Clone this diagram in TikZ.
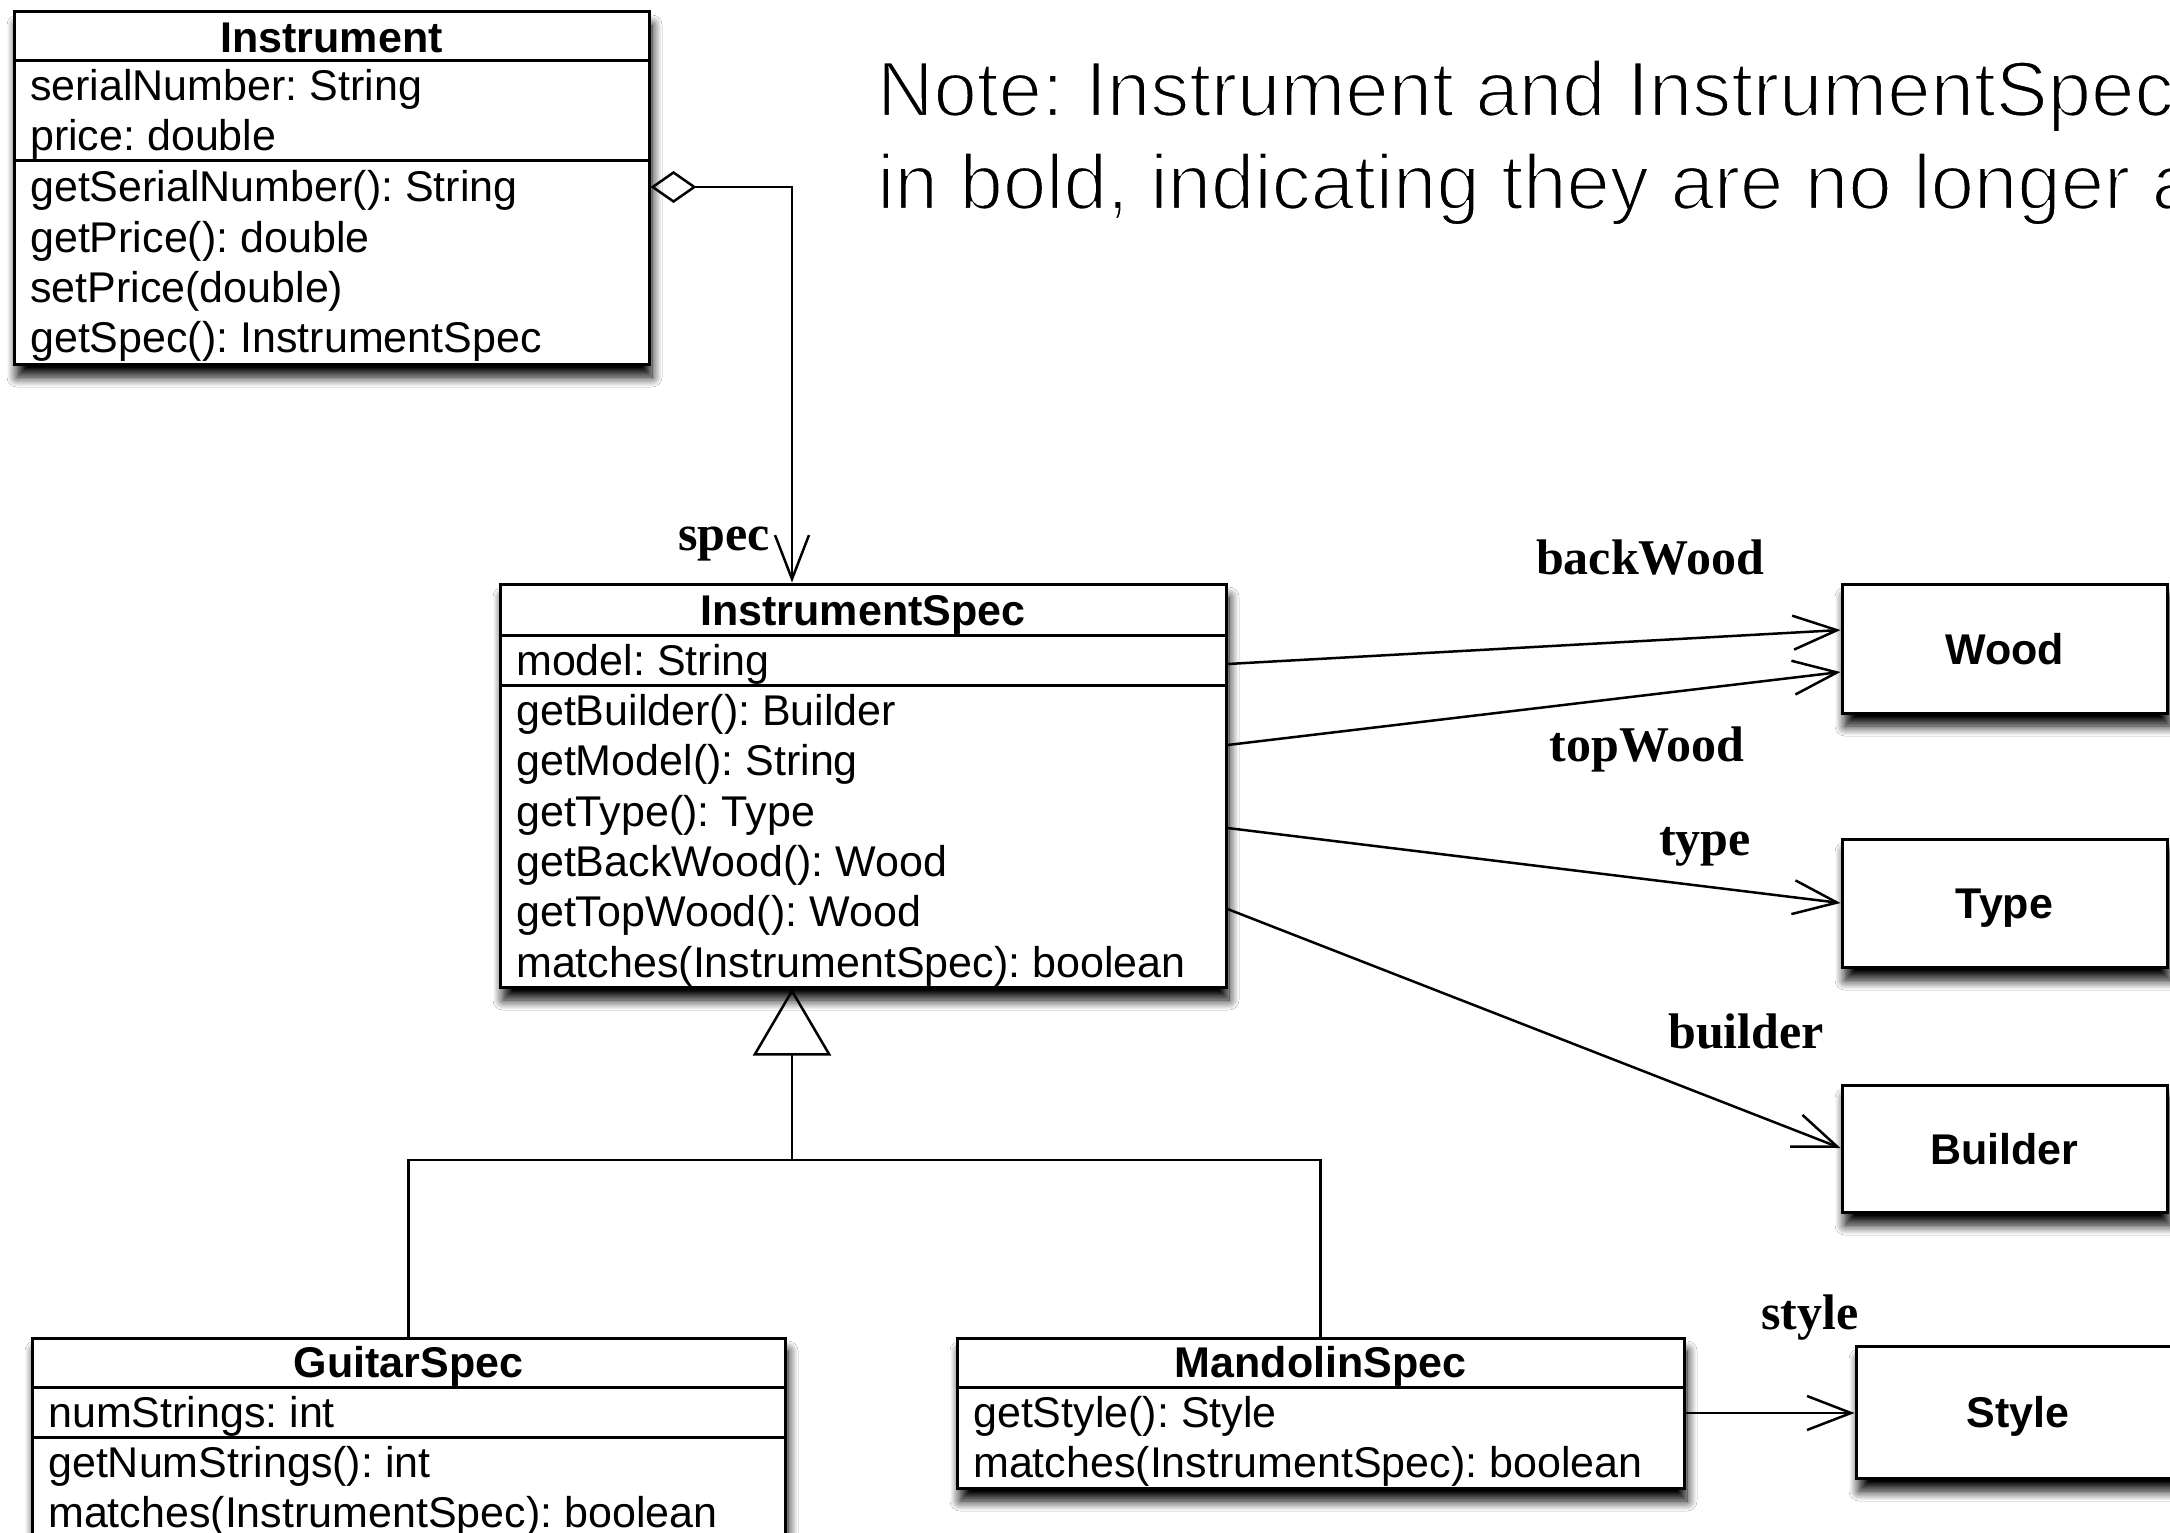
\documentclass[tikz,border=0pt]{standalone}
\usepackage{fontspec}
\setmainfont{Liberation Sans}
\newfontfamily\rolefont{Liberation Serif}
\usetikzlibrary{arrows.meta,shadows.blur}
\frenchspacing

% light-weight rendering of the note: glyph outlines are trimmed by a thin white stroke
\newcommand\lighttext[1]{\special{pdf:code q 2 Tr 1 1 1 RG 2.2 w}#1\special{pdf:code Q}}

\tikzset{
  classbox/.style={draw, rectangle, line width=3pt, fill=white, inner sep=0pt,
    blur shadow={shadow xshift=3pt, shadow yshift=-13pt, shadow blur radius=10pt, shadow opacity=100, shadow blur steps=12}},
  simplebox/.style={classbox, font=\fontsize{43}{50}\selectfont\bfseries, text height=31pt, text depth=0pt},
  divider/.style={line width=3pt},
  classname/.style={font=\fontsize{43}{50}\selectfont\bfseries, inner sep=0pt, text height=31pt, text depth=0pt},
  member/.style={font=\fontsize{43}{50}\selectfont, anchor=west, inner sep=0pt, text height=30pt, text depth=0pt},
  rolelabel/.style={font=\rolefont\fontsize{50}{60}\selectfont\bfseries, anchor=base, inner sep=0pt},
  notetext/.style={font=\fontsize{78}{97}\selectfont, anchor=base west, inner sep=0pt},
  link/.style={line width=2.5pt},
  assoc/.style={link, -{Straight Barb[length=44pt, width=34pt, line width=2.5pt]}},
  aggr/.style={link, {Diamond[open, length=46pt, width=32pt, line width=2.5pt]}-{Straight Barb[length=44pt, width=34pt, line width=2.5pt]}},
  inherit/.style={link, -{Triangle[open, length=67pt, width=78pt, line width=2.5pt]}}
}

\begin{document}
\begin{tikzpicture}[x=1pt, y=-1pt]
\useasboundingbox (0,0) rectangle (2170,1533);
\clip (0,0) rectangle (2170,1533);
\fill[white] (0,0) rectangle (2170,1533);

% Note
\node[notetext] (note1) at (877,116) {\lighttext{Note: Instrument and InstrumentSpec}};
\node[notetext] (note2) at (877,209) {\lighttext{in bold, indicating they are no longer a}};

% Instrument
\node[classbox, minimum width=635pt, minimum height=352pt] (inst) at (331.5,188) {};
\draw[divider] (inst.west |- 0,61) -- (inst.east |- 0,61);
\draw[divider] (inst.west |- 0,161) -- (inst.east |- 0,161);
\node[classname] (instT) at (331.5,37) {Instrument};
\node[member] (instA1) at (30,86) {serialNumber: String};
\node[member] (instA2) at (30,136) {price: double};
\node[member] (instM1) at (30,186) {getSerialNumber(): String};
\node[member] (instM2) at (30,237) {getPrice(): double};
\node[member] (instM3) at (30,287) {setPrice(double)};
\node[member] (instM4) at (30,337) {getSpec(): InstrumentSpec};

% InstrumentSpec
\node[classbox, minimum width=726pt, minimum height=403pt] (ispec) at (863,785.5) {};
\draw[divider] (ispec.west |- 0,635) -- (ispec.east |- 0,635);
\draw[divider] (ispec.west |- 0,685) -- (ispec.east |- 0,685);
\node[classname] (ispecT) at (863,610) {InstrumentSpec};
\node[member] (ispecA1) at (516,660) {model: String};
\node[member] (ispecM1) at (516,710) {getBuilder(): Builder};
\node[member] (ispecM2) at (516,760) {getModel(): String};
\node[member] (ispecM3) at (516,811) {getType(): Type};
\node[member] (ispecM4) at (516,861) {getBackWood(): Wood};
\node[member] (ispecM5) at (516,911) {getTopWood(): Wood};
\node[member] (ispecM6) at (516,962) {matches(InstrumentSpec): boolean};

% GuitarSpec
\node[classbox, minimum width=753pt, minimum height=202pt] (guitar) at (408.5,1439) {};
\draw[divider] (guitar.west |- 0,1387) -- (guitar.east |- 0,1387);
\draw[divider] (guitar.west |- 0,1437) -- (guitar.east |- 0,1437);
\node[classname] (guitarT) at (408.5,1362) {GuitarSpec};
\node[member] (guitarA1) at (48,1412) {numStrings: int};
\node[member] (guitarM1) at (48,1462) {getNumStrings(): int};
\node[member] (guitarM2) at (48,1512) {matches(InstrumentSpec): boolean};

% MandolinSpec
\node[classbox, minimum width=727pt, minimum height=150pt] (mando) at (1320.5,1413) {};
\draw[divider] (mando.west |- 0,1387) -- (mando.east |- 0,1387);
\node[classname] (mandoT) at (1320.5,1362) {MandolinSpec};
\node[member] (mandoM1) at (973,1412) {getStyle(): Style};
\node[member] (mandoM2) at (973,1462) {matches(InstrumentSpec): boolean};

% Simple classes
\node[simplebox, minimum width=325pt, minimum height=129pt] (wood) at (2004.5,648.5) {Wood};
\node[simplebox, minimum width=325pt, minimum height=128pt] (type) at (2004.5,903) {Type};
\node[simplebox, minimum width=325pt, minimum height=127pt] (builder) at (2004.5,1148.5) {Builder};
\node[simplebox, minimum width=324pt, minimum height=132pt] (style) at (2018,1412) {Style};

% Aggregation Instrument -> InstrumentSpec
\draw[aggr] (inst.east |- 0,187) -- (792,187) -- (ispec.north -| 792,0);
\node[rolelabel] (lspec) at (724,550) {spec};

% Associations
\draw[assoc] (ispec.east |- 0,664) -- (wood.west |- 0,630);
\draw[assoc] (ispec.east |- 0,745) -- (wood.west |- 0,672);
\draw[assoc] (ispec.east |- 0,828) -- (type.west |- 0,903);
\draw[assoc] (ispec.east |- 0,909) -- (builder.west |- 0,1148);
\draw[assoc] (mando.east |- 0,1413) -- (style.west |- 0,1413);
\node[rolelabel] (lback) at (1650,574) {backWood};
\node[rolelabel] (ltop) at (1647,761) {topWood};
\node[rolelabel] (ltype) at (1705,855) {type};
\node[rolelabel] (lbuild) at (1746,1048) {builder};
\node[rolelabel] (lstyle) at (1810,1329) {style};

% Generalization
\coordinate (joint) at (792,1160);
\draw[inherit] (guitar.north) |- (joint) -- (ispec.south -| joint);
\draw[link] (mando.north) |- (joint);
\end{tikzpicture}
\end{document}
